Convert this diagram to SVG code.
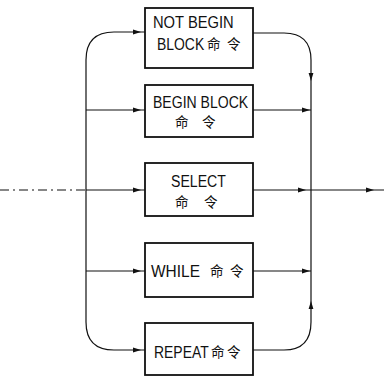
<svg xmlns="http://www.w3.org/2000/svg" xmlns:xlink="http://www.w3.org/1999/xlink" width="384" height="377" viewBox="0 0 384 377">
<style>
.box{fill:#fff;stroke:#111;stroke-width:1.8}
.ln{fill:none;stroke:#111;stroke-width:1.2}
.t{font-family:"Liberation Sans",sans-serif;font-size:17px;fill:#111}
.c{font-family:"Noto Sans CJK SC","Noto Sans CJK JP",sans-serif;font-size:13.5px;fill:#111}
</style>
<defs>
<polygon id="ah" points="0,0 -8,-2.4 -8,2.4" fill="#111"/>
</defs>
<g id="connectors">
<path class="ln" d="M0,190 L86,190" stroke-dasharray="9 4 2 4"/>
<path class="ln" d="M86,190 L145,190"/>
<path class="ln" d="M145,32 L114,32 Q86,32 86,60 L86,322 Q86,350 114,350 L145,350"/>
<path class="ln" d="M86,110 L145,110"/>
<path class="ln" d="M86,271 L145,271"/>
<path class="ln" d="M253,33 L284,33 Q311,33 311,60 L311,322 Q311,350 284,350 L253,350"/>
<path class="ln" d="M253,110 L311,110"/>
<path class="ln" d="M253,190 L384,190"/>
<path class="ln" d="M253,271 L311,271"/>
<use xlink:href="#ah" transform="translate(141,32)"/>
<use xlink:href="#ah" transform="translate(141,110)"/>
<use xlink:href="#ah" transform="translate(141,190)"/>
<use xlink:href="#ah" transform="translate(141,271)"/>
<use xlink:href="#ah" transform="translate(141,350)"/>
<use xlink:href="#ah" transform="translate(310,110)"/>
<use xlink:href="#ah" transform="translate(306,190)"/>
<use xlink:href="#ah" transform="translate(310,271)"/>
<use xlink:href="#ah" transform="translate(374,190)"/>
<use xlink:href="#ah" transform="translate(311,81) rotate(90)"/>
<use xlink:href="#ah" transform="translate(311,301) rotate(-90)"/>
</g>
<g id="n1"><rect class="box" x="145" y="8" width="108" height="60"/>
<text class="t" transform="translate(153,28) scale(0.866,1)">NOT BEGIN</text>
<text class="t" transform="translate(157,50) scale(0.82,1)">BLOCK</text>
<text class="c" y="49"><tspan x="207">命</tspan><tspan x="227">令</tspan></text></g>
<g id="n2"><rect class="box" x="145" y="85" width="108" height="52"/>
<text class="t" transform="translate(153,108) scale(0.826,1)">BEGIN BLOCK</text>
<text class="c" y="127"><tspan x="175">命</tspan><tspan x="202">令</tspan></text></g>
<g id="n3"><rect class="box" x="145" y="163" width="108" height="53"/>
<text class="t" transform="translate(171,187) scale(0.83,1)">SELECT</text>
<text class="c" y="207"><tspan x="175">命</tspan><tspan x="204">令</tspan></text></g>
<g id="n4"><rect class="box" x="145" y="243" width="108" height="54"/>
<text class="t" transform="translate(151,277) scale(0.91,1)">WHILE</text>
<text class="c" y="276"><tspan x="210">命</tspan><tspan x="230">令</tspan></text></g>
<g id="n5"><rect class="box" x="145" y="323" width="108" height="52"/>
<text class="t" transform="translate(154,358) scale(0.82,1)">REPEAT</text>
<text class="c" y="357"><tspan x="211">命</tspan><tspan x="227">令</tspan></text></g>
</svg>
